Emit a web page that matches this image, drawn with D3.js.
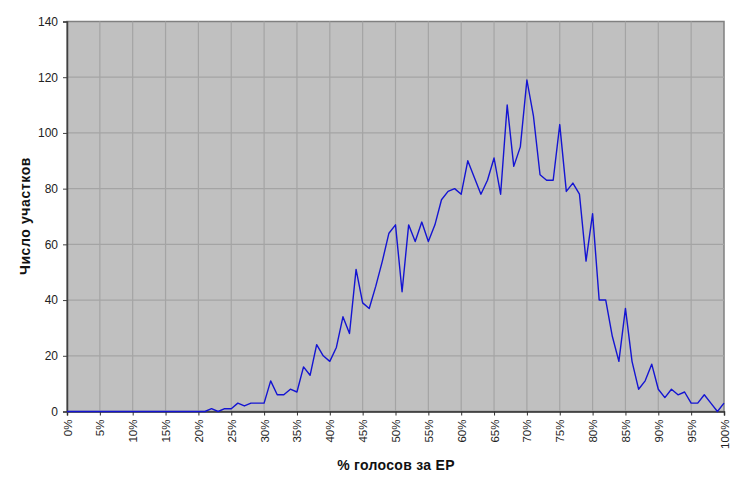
<!DOCTYPE html>
<html>
<head>
<meta charset="utf-8">
<script src="https://cdn.jsdelivr.net/npm/d3@7"></script>
<style>
  body { margin: 0; background: #fff; }
  svg { display: block; font-family: "Liberation Sans", Arial, sans-serif; }
</style>
</head>
<body>
<svg id="chart" width="747" height="487"></svg>
<script>
// percent of votes for ER (0..100, step 1)
const pct = d3.range(0, 101);
// number of polling stations per percent bucket
const counts = [
  0, 0, 0, 0, 0, 0, 0, 0, 0, 0,
  0, 0, 0, 0, 0, 0, 0, 0, 0, 0,
  0, 0, 1, 0, 1, 1, 3, 2, 3, 3,
  3, 11, 6, 6, 8, 7, 16, 13, 24, 20,
  18, 23, 34, 28, 51, 39, 37, 45, 54, 64,
  67, 43, 67, 61, 68, 61, 67, 76, 79, 80,
  78, 90, 84, 78, 83, 91, 78, 110, 88, 95,
  119, 106, 85, 83, 83, 103, 79, 82, 78, 54,
  71, 40, 40, 27, 18, 37, 18, 8, 11, 17,
  8, 5, 8, 6, 7, 3, 3, 6, 3, 0,
  3
];
const xTicks = d3.range(0, 101, 5);
const yTicks = d3.range(0, 141, 20);

const svg = d3.select('#chart');
const L = 67, R = 724, T = 21.5, B = 411.5;

const x = d3.scaleLinear().domain([0, 100]).range([L, R]);
const y = d3.scaleLinear().domain([0, 140]).range([B, T]);

// plot background
svg.append('rect')
  .attr('x', L).attr('y', T)
  .attr('width', R - L).attr('height', B - T)
  .attr('fill', '#c0c0c0')
  .attr('stroke', '#808080')
  .attr('stroke-width', 1.5);

// grid
const gridG = svg.append('g');
xTicks.slice(1, -1).forEach(t => {
  gridG.append('line')
    .attr('x1', x(t)).attr('x2', x(t))
    .attr('y1', T).attr('y2', B)
    .attr('stroke', '#a4a4a4').attr('stroke-width', 1.2);
});
yTicks.slice(1, -1).forEach(t => {
  gridG.append('line')
    .attr('x1', L).attr('x2', R)
    .attr('y1', y(t)).attr('y2', y(t))
    .attr('stroke', '#a4a4a4').attr('stroke-width', 1.2);
});

// axes
const xAxis = svg.append('g')
  .attr('transform', `translate(0,${B})`)
  .call(d3.axisBottom(x).tickValues(xTicks).tickSize(4).tickPadding(4).tickFormat(d => d + '%'));
xAxis.select('.domain').attr('stroke', '#303030').attr('stroke-width', 1.5);
xAxis.selectAll('line').attr('stroke', '#303030');
xAxis.selectAll('text')
  .attr('transform', 'rotate(-90)')
  .attr('x', -8).attr('y', 0).attr('dy', '0.35em')
  .attr('text-anchor', 'end')
  .attr('fill', '#222')
  .attr('font-size', '11.5px');

const yAxis = svg.append('g')
  .attr('transform', `translate(${L},0)`)
  .call(d3.axisLeft(y).tickValues(yTicks).tickSize(4).tickPadding(5));
yAxis.select('.domain').attr('stroke', '#404040').attr('stroke-width', 1.5);
yAxis.selectAll('line').attr('stroke', '#404040');
yAxis.selectAll('text').attr('fill', '#222').attr('font-size', '12px');

// data line
svg.append('path')
  .datum(pct.map((p, i) => [p, counts[i]]))
  .attr('fill', 'none')
  .attr('stroke', '#1414d2')
  .attr('stroke-width', 1.4)
  .attr('stroke-linejoin', 'round')
  .attr('d', d3.line().x(d => x(d[0])).y(d => y(d[1])));

// axis titles
svg.append('text')
  .attr('x', 396).attr('y', 470)
  .attr('text-anchor', 'middle')
  .attr('font-size', '14px').attr('font-weight', 'bold')
  .attr('letter-spacing', '0.3px')
  .attr('fill', '#111')
  .text('% голосов за ЕР');

svg.append('text')
  .attr('transform', 'translate(30,216) rotate(-90)')
  .attr('text-anchor', 'middle')
  .attr('font-size', '14px').attr('font-weight', 'bold')
  .attr('letter-spacing', '0.6px')
  .attr('fill', '#111')
  .text('Число участков');
</script>
</body>
</html>
